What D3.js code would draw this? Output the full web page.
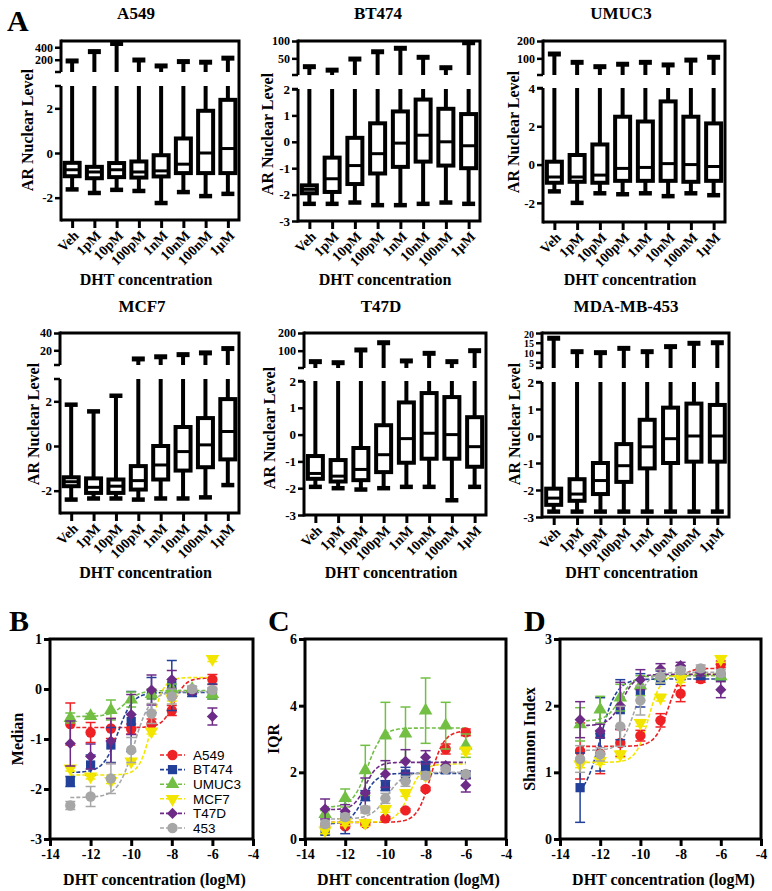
<!DOCTYPE html>
<html><head><meta charset="utf-8">
<script src="https://cdn.jsdelivr.net/npm/d3@7"></script>
<style>
body{margin:0;background:#fff}
svg text{font-family:"Liberation Serif","Times New Roman",serif;font-weight:bold;fill:#000}
</style>
</head><body>
<svg id="c" width="772" height="891"></svg>
<script>
// ---------------- DATA ----------------
const categories = ["Veh","1pM","10pM","100pM","1nM","10nM","100nM","1µM"];
const cellLines = ["A549","BT474","UMUC3","MCF7","T47D","MDA-MB-453"];

// Panel A: box-plot summaries per cell line (lower whisker, Q1, median, Q3, upper whisker)
const a549Low  = [-1.63,-1.79,-1.65,-1.7,-2.24,-1.75,-1.93,-1.83];
const a549Q1   = [-1.04,-1.13,-1.08,-1.1,-1.05,-0.9,-0.9,-0.9];
const a549Med  = [-0.75,-0.85,-0.75,-0.85,-0.8,-0.5,0,0.2];
const a549Q3   = [-0.44,-0.62,-0.45,-0.38,-0.1,0.65,1.89,2.38];
const a549High = [180,330,460,195,100,170,160,225];

const bt474Low  = [-2.35,-2.35,-2.3,-2.4,-2.4,-2.35,-2.3,-2.35];
const bt474Q1   = [-1.95,-1.9,-1.6,-1.2,-0.95,-0.75,-0.9,-1.0];
const bt474Med  = [-1.8,-1.4,-0.9,-0.45,-0.05,0.25,0,-0.15];
const bt474Q3   = [-1.65,-0.6,0.15,0.7,1.15,1.6,1.25,1.05];
const bt474High = [26,16,48,69,79,53,23,95];

const umuc3Low  = [-1.4,-2.0,-1.5,-1.55,-1.5,-1.65,-1.5,-1.6];
const umuc3Q1   = [-0.95,-0.9,-0.95,-0.85,-0.85,-0.85,-0.9,-0.85];
const umuc3Med  = [-0.65,-0.65,-0.55,-0.2,-0.15,0.05,0,-0.1];
const umuc3Q3   = [0.15,0.5,1.05,2.5,2.25,3.3,2.5,2.15];
const umuc3High = [125,77,52,66,77,62,90,106];

const mcf7Low  = [-2.4,-2.35,-2.35,-2.4,-2.35,-2.35,-2.3,-1.75];
const mcf7Q1   = [-1.8,-2.1,-2.1,-1.95,-1.5,-1.1,-0.95,-0.6];
const mcf7Med  = [-1.6,-1.85,-1.8,-1.55,-0.85,-0.25,0.05,0.65];
const mcf7Q3   = [-1.4,-1.45,-1.5,-0.9,0,0.85,1.25,2.1];
const mcf7High = [1.85,1.55,2.25,10,12.5,15,17,22];

const t47dLow  = [-1.95,-2.0,-2.05,-2.0,-1.95,-1.95,-2.45,-1.95];
const t47dQ1   = [-1.65,-1.75,-1.7,-1.4,-1.05,-0.9,-0.9,-1.2];
const t47dMed  = [-1.45,-1.55,-1.3,-0.75,-0.15,0.05,0,-0.45];
const t47dQ3   = [-0.8,-0.95,-0.5,0.35,1.2,1.55,1.4,0.65];
const t47dHigh = [38,32,104,145,42,85,38,100];

const mdaLow  = [-2.8,-2.8,-2.8,-2.8,-2.8,-2.8,-2.8,-2.8];
const mdaQ1   = [-2.55,-2.4,-2.15,-1.7,-1.2,-1.0,-0.95,-0.95];
const mdaMed  = [-2.3,-2.15,-1.65,-1.1,-0.4,-0.1,0,0];
const mdaQ3   = [-1.95,-1.6,-1.0,-0.3,0.6,1.05,1.2,1.15];
const mdaHigh = [17.3,10.4,9.9,12.1,10.4,13,14.7,15];

// broken-axis domains and tick labels (lower segment, upper segment)
const lowDomains = [[-3,3],[-3,2],[-3,4],[-3,3],[-3,2],[-3,2]];
const upDomains  = [[3,500],[2,100],[4,200],[3,40],[2,200],[2,20]];
const lowTicks = [[-2,0,2],[-3,-2,-1,0,1,2],[-2,0,2,4],[-2,0,2],[-3,-2,-1,0,1,2],[-3,-2,-1,0,1,2]];
const upTicks  = [[200,400],[50,100],[100,200],[20,40],[100,200],[5,10,15,20]];

// Panels B-D
const seriesNames = ["A549","BT474","UMUC3","MCF7","T47D","453"];
const logConc = [-13,-12,-11,-10,-9,-8,-7,-6];
const xTicksLog = [-14,-12,-10,-8,-6,-4];

const medianMean = [
  [-0.7,-0.87,-0.79,-0.8,-0.7,-0.43,-0.05,0.19],
  [-1.85,-1.52,-1.12,-0.65,-0.12,0.07,-0.05,-0.05],
  [-0.58,-0.54,-0.42,-0.21,-0.1,0.0,0.0,-0.1],
  [-1.59,-1.75,-1.84,-1.45,-0.85,-0.19,null,0.6],
  [-1.09,-1.35,-1.04,-0.51,-0.02,0.19,-0.05,-0.55],
  [-2.33,-2.15,-1.79,-1.22,-0.49,-0.15,0,-0.02]];
const medianErr = [
  [0.42,0.2,0.2,0.1,0.1,0.1,0.05,0.1],
  [0.1,0.2,0.35,0.6,0.35,0.5,0.1,0.15],
  [0.1,0.05,0.2,0.15,0.1,0.1,0.05,0.1],
  [0.05,0.05,0.05,0.05,0.05,0.05,0.05,0.05],
  [0.45,0.25,0.45,0.4,0.3,0.18,0.05,0.17],
  [0.08,0.2,0.3,0.25,0.2,0.15,0.05,0.05]];
const medianFit = [[-0.77,0.22,-7.9,1.5],[-1.67,-0.07,-10.65,1.2],[-0.55,-0.03,-10.3,1.2],[-1.72,0.23,-9.0,1.5],null,[-2.17,-0.05,-9.85,1.1]];

const iqrMean = [
  [0.4,0.38,0.46,0.62,0.86,1.5,2.7,3.2],
  [0.23,0.66,1.3,1.6,1.95,2.18,2.08,1.93],
  [0.75,1.23,2.06,3.1,3.16,3.85,3.4,2.8],
  [0.26,0.5,0.48,0.9,1.38,1.9,null,2.65],
  [0.9,0.83,1.38,1.95,2.33,2.45,2.2,1.61],
  [0.45,0.66,0.88,1.22,1.73,1.9,2.1,1.95]];
const iqrErr = [
  [0.05,0.05,0.05,0.05,0.05,0.05,0.15,0.1],
  [0.1,0.5,0.15,0.15,0.2,0.15,0.1,0.1],
  [0.1,0.27,0.75,1.0,0.8,0.98,0.7,0.35],
  [0.1,0.1,0.1,0.1,0.1,0.1,0.1,0.1],
  [0.3,0.2,0.45,0.4,0.35,0.2,0.1,0.2],
  [0.1,0.1,0.1,0.15,0.15,0.1,0.05,0.05]];
const iqrFit = [[0.5,3.25,-7.75,1.3],[0.45,1.97,-11.1,1.3],[0.95,3.33,-10.9,1.2],[0.5,2.25,-8.8,1.3],[0.88,2.3,-11.0,1.5],[0.6,2.0,-9.9,1.1]];

const shannonMean = [
  [1.32,1.28,1.44,1.55,1.78,2.18,2.4,2.62],
  [0.77,1.57,1.94,2.23,2.42,2.49,2.45,2.43],
  [1.72,1.94,2.12,2.3,2.44,2.48,2.5,2.44],
  [1.12,1.17,1.27,1.74,2.12,2.4,null,2.7],
  [1.79,1.62,2.0,2.39,2.55,2.6,2.5,2.24],
  [1.2,1.27,1.69,2.08,2.44,2.53,2.56,2.49]];
const shannonErr = [
  [0.42,0.3,0.2,0.08,0.1,0.12,0.05,0.05],
  [0.52,0.55,0.45,0.25,0.1,0.1,0.05,0.05],
  [0.25,0.2,0.2,0.15,0.1,0.05,0.05,0.05],
  [0.05,0.05,0.05,0.05,0.05,0.05,0.05,0.05],
  [0.27,0.1,0.35,0.15,0.08,0.05,0.05,0.12],
  [0.2,0.1,0.3,0.22,0.1,0.05,0.05,0.05]];
const shannonFit = [[1.39,2.56,-8.6,1.3],[0.6,2.4,-12.0,1.1],[1.77,2.45,-11.0,1.3],[1.15,2.47,-9.6,1.4],[1.7,2.47,-10.9,1.3],[1.33,2.5,-10.3,1.3]];

// ---------------- LAYOUT / STYLE ----------------
const colors = ["#ee2124","#22409a","#72bf44","#f2e600","#6d2b87","#a6a6a6"];
const svg = d3.select("#c");

const boxLayout = [
  {x0:61,x1:239,top:41,bottom:220,upBottom:72,lowTop:86,titleX:136,titleY:19,ylabX:27,ylabY:130,xlabY:285},
  {x0:298,x1:480,top:41,bottom:221,upBottom:75,lowTop:89,titleX:378,titleY:19,ylabX:267,ylabY:134,xlabY:285},
  {x0:543,x1:725,top:41,bottom:222,upBottom:75,lowTop:88,titleX:621,titleY:19,ylabX:513,ylabY:132,xlabY:285},
  {x0:60,x1:239,top:333,bottom:513,upBottom:365,lowTop:379,titleX:142,titleY:312,ylabX:33,ylabY:424,xlabY:578},
  {x0:304,x1:486,top:333,bottom:515,upBottom:368,lowTop:381,titleX:381,titleY:312,ylabX:269,ylabY:428,xlabY:578},
  {x0:542,x1:729,top:333,bottom:517,upBottom:368,lowTop:382,titleX:626,titleY:312,ylabX:514,ylabY:424,xlabY:578}
];
const boxData = [
  [a549Low,a549Q1,a549Med,a549Q3,a549High],
  [bt474Low,bt474Q1,bt474Med,bt474Q3,bt474High],
  [umuc3Low,umuc3Q1,umuc3Med,umuc3Q3,umuc3High],
  [mcf7Low,mcf7Q1,mcf7Med,mcf7Q3,mcf7High],
  [t47dLow,t47dQ1,t47dMed,t47dQ3,t47dHigh],
  [mdaLow,mdaQ1,mdaMed,mdaQ3,mdaHigh]
];

function styleAxis(g, size){
  g.selectAll(".domain").remove();
  g.selectAll("line").attr("stroke","#000").attr("stroke-width",2.5);
  g.selectAll("text").attr("font-size",size).attr("font-family","Liberation Serif, serif").attr("font-weight","bold").attr("fill","#000");
}

function drawBoxPanel(p){
  const L = boxLayout[p];
  const [low,q1,med,q3,high] = boxData[p];
  const g = svg.append("g");
  const xs = d3.scalePoint().domain(categories).range([L.x0, L.x1]).padding(0.5);
  const yl = d3.scaleLinear().domain(lowDomains[p]).range([L.bottom, L.lowTop]);
  const yu = d3.scaleLinear().domain(upDomains[p]).range([L.upBottom, L.top]);
  const lowMax = lowDomains[p][1];

  categories.forEach((c,i)=>{
    const x = xs(c);
    const bw = 15, cw = 13;
    g.append("line").attr("x1",x).attr("x2",x).attr("y1",yl(q1[i])).attr("y2",yl(low[i])).attr("stroke","#000").attr("stroke-width",4);
    g.append("line").attr("x1",x-cw/2).attr("x2",x+cw/2).attr("y1",yl(low[i])).attr("y2",yl(low[i])).attr("stroke","#000").attr("stroke-width",4.5);
    if (high[i] <= lowMax){
      g.append("line").attr("x1",x).attr("x2",x).attr("y1",yl(q3[i])).attr("y2",yl(high[i])).attr("stroke","#000").attr("stroke-width",4);
      g.append("line").attr("x1",x-cw/2).attr("x2",x+cw/2).attr("y1",yl(high[i])).attr("y2",yl(high[i])).attr("stroke","#000").attr("stroke-width",4.5);
    } else {
      g.append("line").attr("x1",x).attr("x2",x).attr("y1",yl(q3[i])).attr("y2",L.lowTop).attr("stroke","#000").attr("stroke-width",4);
      g.append("line").attr("x1",x).attr("x2",x).attr("y1",L.upBottom).attr("y2",yu(high[i])).attr("stroke","#000").attr("stroke-width",4);
      g.append("line").attr("x1",x-cw/2).attr("x2",x+cw/2).attr("y1",yu(high[i])).attr("y2",yu(high[i])).attr("stroke","#000").attr("stroke-width",5);
    }
    g.append("rect").attr("x",x-bw/2).attr("width",bw).attr("y",yl(q3[i])).attr("height",yl(q1[i])-yl(q3[i]))
      .attr("fill","#fff").attr("stroke","#000").attr("stroke-width",4);
    g.append("line").attr("x1",x-bw/2).attr("x2",x+bw/2).attr("y1",yl(med[i])).attr("y2",yl(med[i])).attr("stroke","#000").attr("stroke-width",3);
  });

  g.append("path").attr("d",`M${L.x0},${L.top}H${L.x1}V${L.bottom}H${L.x0}`).attr("fill","none").attr("stroke","#000").attr("stroke-width",3);
  g.append("line").attr("x1",L.x0).attr("x2",L.x0).attr("y1",L.top-1.5).attr("y2",L.upBottom).attr("stroke","#000").attr("stroke-width",3);
  g.append("line").attr("x1",L.x0).attr("x2",L.x0).attr("y1",L.lowTop).attr("y2",L.bottom+1.5).attr("stroke","#000").attr("stroke-width",3);
  [L.upBottom, L.lowTop].forEach(y=>{
    g.append("line").attr("x1",L.x0-6).attr("x2",L.x0).attr("y1",y).attr("y2",y).attr("stroke","#000").attr("stroke-width",2.5);
  });

  const axL = g.append("g").attr("transform",`translate(${L.x0},0)`)
    .call(d3.axisLeft(yl).tickValues(lowTicks[p]).tickSize(6).tickPadding(2).tickFormat(d=>String(d)));
  styleAxis(axL, 13);
  const axU = g.append("g").attr("transform",`translate(${L.x0},0)`)
    .call(d3.axisLeft(yu).tickValues(upTicks[p]).tickSize(6).tickPadding(2).tickFormat(d=>String(d)));
  styleAxis(axU, 12);
  if (p===5) axU.selectAll("text").attr("font-size",10).attr("dy","0.4em");

  const axB = g.append("g").attr("transform",`translate(0,${L.bottom})`)
    .call(d3.axisBottom(xs).tickSize(8).tickFormat(""));
  styleAxis(axB, 13);
  axB.selectAll("line").attr("stroke-width",3);
  categories.forEach(c=>{
    g.append("text").attr("transform",`translate(${xs(c)+4},${L.bottom+13}) rotate(-45)`)
      .attr("text-anchor","end").attr("dy","0.35em").attr("font-size",14).text(c);
  });

  g.append("text").attr("x",L.titleX).attr("y",L.titleY).attr("text-anchor","middle").attr("font-size",17).text(cellLines[p]);
  g.append("text").attr("transform",`translate(${L.ylabX},${L.ylabY}) rotate(-90)`).attr("text-anchor","middle")
    .attr("dy","0.35em").attr("font-size",16).text("AR Nuclear Level");
  g.append("text").attr("x",(L.x0+L.x1)/2-4).attr("y",L.xlabY).attr("text-anchor","middle").attr("font-size",16).text("DHT concentration");
}
for (let p=0;p<6;p++) drawBoxPanel(p);

// ----- bottom panels -----
const curveLayout = [
  {x0:50,x1:253,top:639,bottom:839,ylabX:17,letter:"B",letterX:9},
  {x0:305,x1:506,top:639,bottom:839,ylabX:273,letter:"C",letterX:268},
  {x0:560,x1:761,top:639,bottom:839,ylabX:529,letter:"D",letterX:524}
];
const symbols = [
  {type:d3.symbolCircle,size:85,rot:0},
  {type:d3.symbolSquare,size:85,rot:0},
  {type:d3.symbolTriangle,size:80,rot:0},
  {type:d3.symbolTriangle,size:80,rot:180},
  {type:d3.symbolSquare,size:62,rot:45},
  {type:d3.symbolCircle,size:85,rot:0}
];

function drawCurvePanel(k, yDom, yTicks, ylab, means, errs, fits){
  const L = curveLayout[k];
  const g = svg.append("g");
  const xs = d3.scaleLinear().domain([-14,-4]).range([L.x0,L.x1]);
  const ys = d3.scaleLinear().domain(yDom).range([L.bottom,L.top]);
  const line = d3.line().x(d=>xs(d[0])).y(d=>ys(d[1]));
  fits.forEach((f,s)=>{
    if(!f) return;
    const pts = d3.range(-13,-5.999,0.05).map(x=>[x, f[0]+(f[1]-f[0])/(1+Math.pow(10,(f[2]-x)*f[3]))]);
    g.append("path").attr("d",line(pts)).attr("fill","none").attr("stroke",colors[s]).attr("stroke-width",1.6).attr("stroke-dasharray","4,2");
  });
  means.forEach((m,s)=>{
    m.forEach((v,i)=>{
      if (v==null) return;
      const x = xs(logConc[i]), e = errs[s][i];
      const y1 = ys(v+e), y2 = ys(v-e);
      g.append("line").attr("x1",x).attr("x2",x).attr("y1",y1).attr("y2",y2).attr("stroke",colors[s]).attr("stroke-width",1.5);
      [y1,y2].forEach(yy=>g.append("line").attr("x1",x-5).attr("x2",x+5).attr("y1",yy).attr("y2",yy).attr("stroke",colors[s]).attr("stroke-width",1.5));
    });
    m.forEach((v,i)=>{
      if (v==null) return;
      const sy = symbols[s];
      g.append("path").attr("d",d3.symbol().type(sy.type).size(sy.size)())
        .attr("transform",`translate(${xs(logConc[i])},${ys(v)}) rotate(${sy.rot})`).attr("fill",colors[s]);
    });
  });
  g.append("rect").attr("x",L.x0).attr("y",L.top).attr("width",L.x1-L.x0).attr("height",L.bottom-L.top)
    .attr("fill","none").attr("stroke","#000").attr("stroke-width",3);
  const axB = g.append("g").attr("transform",`translate(0,${L.bottom})`)
    .call(d3.axisBottom(xs).tickValues(xTicksLog).tickSize(7).tickPadding(3).tickFormat(d=>String(d)));
  styleAxis(axB, 14);
  axB.selectAll("line").attr("stroke-width",3);
  const axL = g.append("g").attr("transform",`translate(${L.x0},0)`)
    .call(d3.axisLeft(ys).tickValues(yTicks).tickSize(6).tickPadding(2).tickFormat(d=>String(d)));
  styleAxis(axL, 14);
  axL.selectAll("line").attr("stroke-width",3);
  g.append("text").attr("transform",`translate(${L.ylabX},${(L.top+L.bottom)/2}) rotate(-90)`).attr("text-anchor","middle")
    .attr("dy","0.35em").attr("font-size",16).text(ylab);
  g.append("text").attr("x",(L.x0+L.x1)/2+3).attr("y",885).attr("text-anchor","middle").attr("font-size",16).text("DHT concentration (logM)");
  g.append("text").attr("x",L.letterX).attr("y",631).attr("font-size",30).text(L.letter);
}

drawCurvePanel(0,[-3,1],[-3,-2,-1,0,1],"Median",medianMean,medianErr,medianFit);
drawCurvePanel(1,[0,6],[0,2,4,6],"IQR",iqrMean,iqrErr,iqrFit);
drawCurvePanel(2,[0,3],[0,1,2,3],"Shannon Index",shannonMean,shannonErr,shannonFit);

svg.append("text").attr("x",7).attr("y",31).attr("font-size",30).text("A");

const lg = svg.append("g");
seriesNames.forEach((n,s)=>{
  const y = 755 + s*14.6;
  lg.append("line").attr("x1",160).attr("x2",185).attr("y1",y).attr("y2",y).attr("stroke",colors[s]).attr("stroke-width",1.6).attr("stroke-dasharray","4,2");
  const sy = symbols[s];
  lg.append("path").attr("d",d3.symbol().type(sy.type).size(sy.size)()).attr("transform",`translate(172.5,${y}) rotate(${sy.rot})`).attr("fill",colors[s]);
  lg.append("text").attr("x",193).attr("y",y).attr("dy","0.36em").attr("font-size",13.5)
    .style("font-family","Liberation Sans, Arial, sans-serif").style("font-weight","normal").text(n);
});
</script>
</body></html>
